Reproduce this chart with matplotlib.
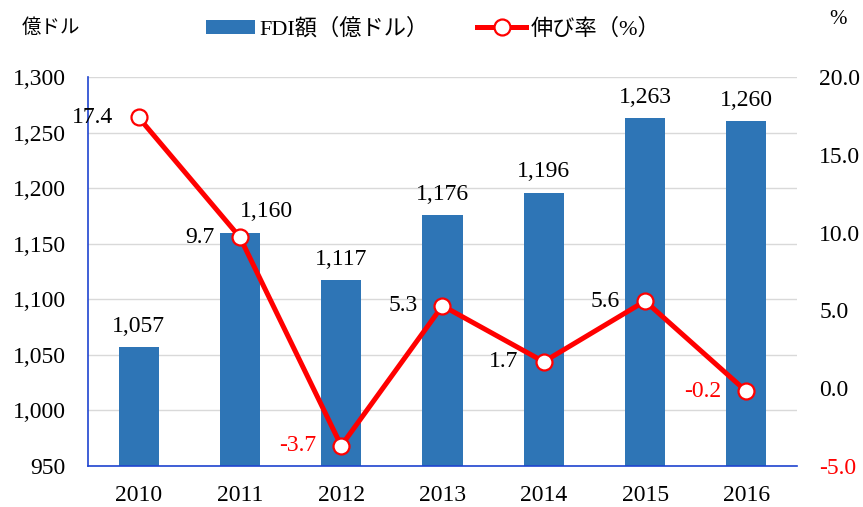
import matplotlib.pyplot as plt
import numpy as np

years = ["2010", "2011", "2012", "2013", "2014", "2015", "2016"]
fdi = [1057, 1160, 1117, 1176, 1196, 1263, 1260]
growth = [17.4, 9.7, -3.7, 5.3, 1.7, 5.6, -0.2]

left_ticks = [950, 1000, 1050, 1100, 1150, 1200, 1250, 1300]
right_ticks = [-5.0, 0.0, 5.0, 10.0, 15.0, 20.0]

fonts = ["Liberation Serif", "Noto Sans CJK JP"]
plt.rcParams["font.family"] = fonts

bar_color = "#2e75b6"
line_color = "#ff0000"
axis_color = "#1f44d0"
grid_color = "#d9d9d9"

fig = plt.figure(figsize=(8.63, 5.07), dpi=100)
ax = fig.add_axes([88 / 863, 1 - 466 / 507, 709 / 863, 389 / 507])
x = np.arange(len(years))

ax.set_ylim(950, 1300)
ax.set_xlim(-0.5, len(years) - 0.5)
ax.set_yticks(left_ticks)
ax.set_yticklabels([f"{v:,}" for v in left_ticks])
ax.yaxis.grid(True, color=grid_color, linewidth=1)
ax.set_axisbelow(True)
bars = ax.bar(x, fdi, width=0.395, color=bar_color, zorder=2, label="FDI額（億ドル）")
ax.set_xticks(x)
ax.set_xticklabels(years)
ax.tick_params(axis="both", length=0, labelsize=17)
ax.tick_params(axis="x", pad=14)
ax.tick_params(axis="y", pad=16)
for s in ["top", "right"]:
    ax.spines[s].set_visible(False)
for s in ["left", "bottom"]:
    ax.spines[s].set_color(axis_color)
    ax.spines[s].set_linewidth(1.2)

# bar value labels (2011 label sits off to the right in the original)
bar_shift = {1: 19}
for i, v in enumerate(fdi):
    ax.annotate(f"{v:,}", (x[i], v), xytext=(bar_shift.get(i, 0), 11), textcoords="offset points",
                ha="center", va="baseline", fontsize=17)

ax2 = ax.twinx()
ax2.set_ylim(-5, 20)
ax2.set_yticks(right_ticks)
ax2.set_yticklabels([f"{v:.1f}" for v in right_ticks])
for lbl, v in zip(ax2.get_yticklabels(), right_ticks):
    if v < 0:
        lbl.set_color(line_color)
ax2.tick_params(axis="y", length=0, labelsize=17, pad=16)
for s in ["top", "right", "left", "bottom"]:
    ax2.spines[s].set_visible(False)
line, = ax2.plot(x, growth, color=line_color, linewidth=3.6, marker="o", markersize=11.5,
                 markerfacecolor="white", markeredgecolor=line_color, markeredgewidth=1.6,
                 zorder=3, label="伸び率（%）")
for i, v in enumerate(growth):
    ax2.annotate(f"{v:.1f}", (x[i], v), xytext=(-18, 0), textcoords="offset points",
                 ha="right", va="center", fontsize=17,
                 color=line_color if v < 0 else "black")

fig.text(22 / 863, 1 - 28 / 507, "億ドル", fontsize=14, va="center", ha="left")
fig.text(838 / 863, 1 - 20 / 507, "%", fontsize=15, va="center", ha="center")

fig.legend([bars, line], ["FDI額（億ドル）", "伸び率（%）"], loc="center",
           bbox_to_anchor=(433 / 863, 1 - 29 / 507), ncol=2, frameon=False,
           fontsize=16, handlelength=2.2, handleheight=0.55, columnspacing=2.2,
           handletextpad=0.2)

fig.savefig("out.png", dpi=100)
